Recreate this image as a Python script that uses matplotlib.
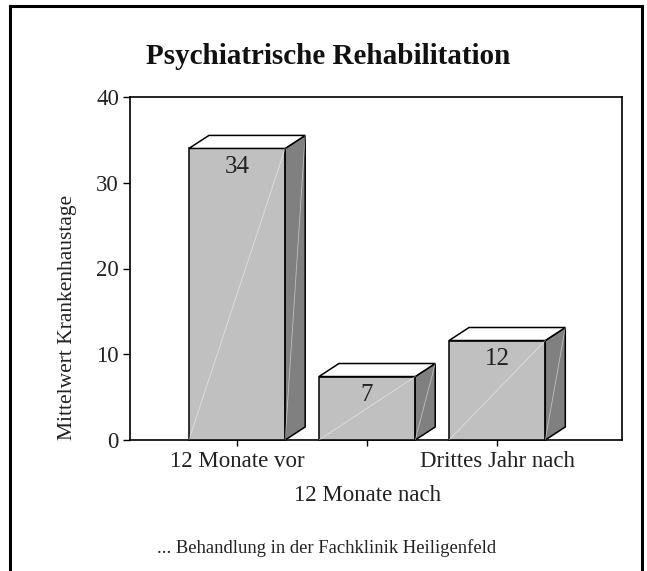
import matplotlib
matplotlib.use("Agg")
import matplotlib.pyplot as plt
from matplotlib.lines import Line2D
from matplotlib.patches import Polygon
import numpy as np

# chart data
categories = ["12 Monate vor", "12 Monate nach", "Drittes Jahr nach"]
values = [34.0, 7.4, 11.6]
value_labels = ["34", "7", "12"]
y_ticks = [0, 10, 20, 30, 40]

plt.rcParams["font.family"] = ["Liberation Serif", "DejaVu Serif"]

W, H = 647, 571
fig = plt.figure(figsize=(W / 100, H / 100), dpi=100)
ax = fig.add_axes([130 / W, 1 - 440 / H, (622 - 130) / W, (440 - 97) / H])

x = np.arange(len(categories))
bar_w = 0.74
dx, dy = 0.154, 1.52  # 3D depth offset in data units

for xi, v, lab in zip(x, values, value_labels):
    l, r = xi - bar_w / 2, xi + bar_w / 2
    front = Polygon([(l, 0), (r, 0), (r, v), (l, v)], closed=True,
                    facecolor="#c0c0c0", edgecolor="black", lw=1.1, zorder=3)
    side = Polygon([(r, 0), (r + dx, dy), (r + dx, v + dy), (r, v)], closed=True,
                   facecolor="#808080", edgecolor="black", lw=1.1, zorder=3)
    top = Polygon([(l, v), (r, v), (r + dx, v + dy), (l + dx, v + dy)], closed=True,
                  facecolor="white", edgecolor="black", lw=1.1, zorder=3)
    for p in (front, side, top):
        p.set_clip_on(False)
        ax.add_patch(p)
    # faint shading seams
    ax.plot([l, r], [0, v], color="white", lw=0.6, alpha=0.5, zorder=4)
    ax.plot([r, r + dx], [0, v + dy], color="white", lw=0.6, alpha=0.5, zorder=4)
    ax.text(xi, v - 0.9, lab, ha="center", va="top", fontsize=18,
            color="#222222", zorder=5)

ax.set_xlim(-0.823, 2.96)
ax.set_ylim(0, 40)
ax.set_yticks(y_ticks)
ax.set_yticklabels([str(t) for t in y_ticks], fontsize=16.5, color="#222222")
ax.set_xticks(x)
ax.set_xticklabels(categories, fontsize=16.5, color="#222222")
ax.tick_params(axis="y", length=5, width=1, pad=3)
ax.tick_params(axis="x", length=4, width=1, pad=4)
# stagger the middle category label onto a second row
ax.xaxis.get_major_ticks()[1].set_pad(28.5)
for s in ax.spines.values():
    s.set_linewidth(1.2)
ax.set_ylabel("Mittelwert Krankenhaustage", fontsize=15.5, color="#222222")
ax.yaxis.set_label_coords(-0.108, 0.356)

fig.text(328 / W, 1 - 57 / H, "Psychiatrische Rehabilitation", ha="center",
         va="center", fontsize=21, fontweight="bold", color="#111111")
fig.text(327 / W, 1 - 548 / H, "... Behandlung in der Fachklinik Heiligenfeld",
         ha="center", va="center", fontsize=13.4, color="#222222")

# outer frame
for xs, ys in [([10, 10], [6, H]), ([642, 642], [6, H]), ([10, 642], [6, 6])]:
    fig.add_artist(Line2D([v / W for v in xs], [1 - v / H for v in ys],
                          color="black", lw=2.2))

fig.savefig("out.png", dpi=100)
